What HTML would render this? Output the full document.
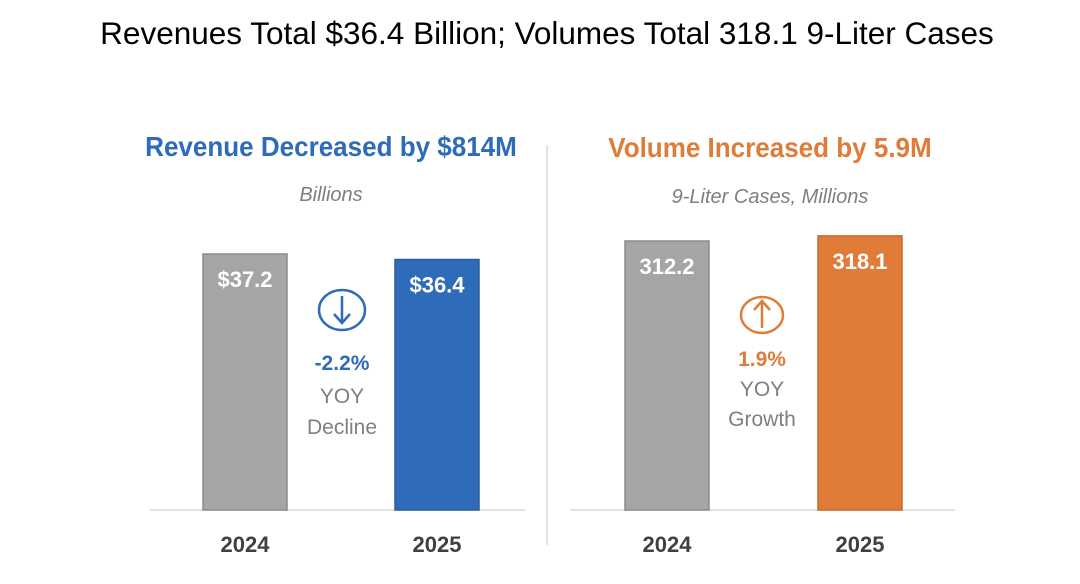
<!DOCTYPE html>
<html><head><meta charset="utf-8"><style>
body{margin:0;background:#fff;width:1080px;height:579px;overflow:hidden;font-family:"Liberation Sans",sans-serif}
svg text{font-family:"Liberation Sans",sans-serif}
</style></head><body>
<svg id="c" width="1080" height="579">
<text x="547" y="44" font-size="31.5" text-anchor="middle" fill="#000">Revenues Total $36.4 Billion; Volumes Total 318.1 9-Liter Cases</text>
<line x1="547" y1="145" x2="547" y2="545" stroke="#d9d9d9" stroke-width="1.5"/>
<text x="331" y="156" font-size="28" font-weight="bold" text-anchor="middle" fill="#2e6bb8" transform="translate(331 0) scale(0.93 1) translate(-331 0)">Revenue Decreased by $814M</text>
<text x="331" y="201" font-size="20" font-style="italic" text-anchor="middle" fill="#7f7f7f">Billions</text>
<text x="770" y="157" font-size="28" font-weight="bold" text-anchor="middle" fill="#e07c3a" transform="translate(770 0) scale(0.93 1) translate(-770 0)">Volume Increased by 5.9M</text>
<text x="770" y="203" font-size="20" font-style="italic" text-anchor="middle" fill="#7f7f7f">9-Liter Cases, Millions</text>
<line x1="150" y1="510" x2="525" y2="510" stroke="#d9d9d9" stroke-width="1.5"/>
<line x1="570" y1="510" x2="955" y2="510" stroke="#d9d9d9" stroke-width="1.5"/>
<g><ellipse cx="342" cy="310" rx="23" ry="20" fill="none" stroke="#2e6bb8" stroke-width="2.5"/><path d="M342 296 V322 M334 314 L342 323 L350 314" fill="none" stroke="#2e6bb8" stroke-width="2.5"/></g>
<text x="342" y="370" font-size="21" font-weight="bold" text-anchor="middle" fill="#2e6bb8">-2.2%</text>
<text x="342" y="403" font-size="21" text-anchor="middle" fill="#7f7f7f">YOY</text>
<text x="342" y="434" font-size="21" text-anchor="middle" fill="#7f7f7f">Decline</text>
<g><ellipse cx="762" cy="315" rx="21" ry="18" fill="none" stroke="#e07c3a" stroke-width="2.5"/><path d="M762 328 V302 M754 310 L762 301 L770 310" fill="none" stroke="#e07c3a" stroke-width="2.5"/></g>
<text x="762" y="366" font-size="21" font-weight="bold" text-anchor="middle" fill="#e07c3a">1.9%</text>
<text x="762" y="396" font-size="21" text-anchor="middle" fill="#7f7f7f">YOY</text>
<text x="762" y="426" font-size="21" text-anchor="middle" fill="#7f7f7f">Growth</text>
</svg>
<script>
const years=["2024","2025"];
const revenue=[37.2,36.4];
const revenueLabels=["$37.2","$36.4"];
const volume=[312.2,318.1];
const volumeLabels=["312.2","318.1"];
const svg=document.getElementById('c');
const NS="http://www.w3.org/2000/svg";
const base=510;
function mk(t,a){const e=document.createElementNS(NS,t);for(const k in a)e.setAttribute(k,a[k]);svg.appendChild(e);return e;}
function panel(vals,labels,xs,scale,colors,strokes,prefix){
  vals.forEach((v,i)=>{
    const h=v*scale;
    const r=mk('rect',{x:xs[i],y:base-h,width:84,height:h,fill:colors[i],stroke:strokes[i],'stroke-width':1.5});
    
    
    const t=mk('text',{x:xs[i]+42,y:base-h+33,'font-size':22,'font-weight':'bold','text-anchor':'middle',fill:'#fff'});
    t.textContent=labels[i];
    
    
    const y=mk('text',{x:xs[i]+42,y:552,'font-size':22,'font-weight':'bold','text-anchor':'middle',fill:'#404040'});
    y.textContent=years[i];
    
    
  });
}
panel(revenue,revenueLabels,[203,395],256/37.2,['#a5a5a5','#2e6bb8'],['#8c8c8c','#2a5f9e'],'revenue');
panel(volume,volumeLabels,[625,818],269/312.2,['#a5a5a5','#e07c3a'],['#8c8c8c','#c86a2c'],'volume');
</script>
</body></html>
